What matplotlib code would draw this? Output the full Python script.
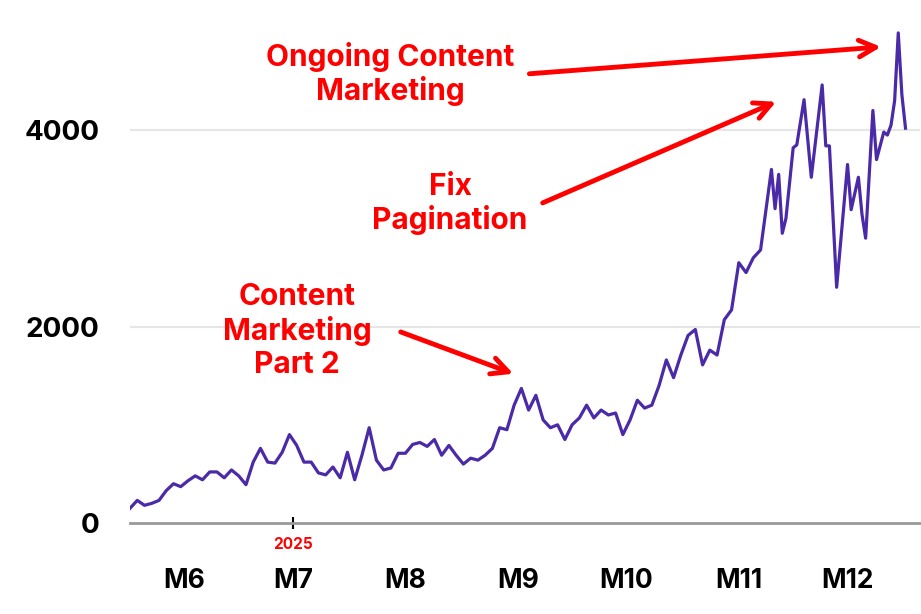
import matplotlib
matplotlib.use("Agg")
import matplotlib.pyplot as plt
import numpy as np
import pandas as pd

# daily views, start date 2025-05-17; early part sampled every 2 days
start = pd.Timestamp("2025-05-17")
early_views = [150, 230, 180, 200, 230, 330, 400, 370, 430, 480,
               440, 520, 520, 460, 540, 480, 390, 620, 760, 620,
               610, 720, 900, 790, 620, 620, 510, 490, 570, 460,
               720, 440, 690, 970, 640, 540, 560, 710, 710, 800,
               820, 780, 850, 690, 790, 690, 600, 660, 640, 690,
               760, 970, 950, 1200, 1370, 1150, 1300, 1050, 970, 1000,
               850, 1000, 1070, 1200, 1070, 1150, 1100, 1120, 900, 1050,
               1250, 1170, 1200, 1400, 1660, 1480, 1710, 1910, 1970, 1610,
               1760, 1710, 2070, 2170]
late_days = [168, 170, 172, 174, 177, 178, 179, 180, 181, 183, 184, 186, 188,
             191, 192, 193, 195, 198, 199, 201, 202, 203, 205, 206, 208, 209,
             210, 211, 212, 213, 214]
late_views = [2650, 2550, 2700, 2780, 3600, 3200, 3550, 2950, 3100, 3820, 3850,
              4310, 3520, 4460, 3840, 3840, 2400, 3650, 3190, 3520, 3140, 2900,
              4200, 3700, 3980, 3950, 4050, 4300, 4990, 4360, 4020]

days = list(range(0, 2 * len(early_views), 2)) + late_days
views = early_views + late_views

month_labels = ["M6", "M7", "M8", "M9", "M10", "M11", "M12"]
month_starts = [(pd.Timestamp(f"2025-{m:02d}-01") - start).days for m in range(6, 13)]

RED = "#ff0000"
PURPLE = "#4b2aa8"
plt.rcParams["font.family"] = ["Inter", "DejaVu Sans"]

fig = plt.figure(figsize=(9.21, 6.14), dpi=100)
ax = fig.add_axes([130 / 921, 1 - 523 / 614, 790 / 921, 523 / 614])
ax.plot(days, views, color=PURPLE, lw=2.3)
ax.set_xlim(0, 218)
ax.set_ylim(0, 5325)

ax.set_yticks([0, 2000, 4000])
ax.set_yticklabels(["0", "2000", "4000"], fontsize=20, fontweight="bold")
ax.tick_params(axis="y", length=0, pad=22)
for v in [2000, 4000]:
    ax.axhline(v, color="#e6e6e6", lw=1.5, zorder=0)
for s in ["top", "right", "left"]:
    ax.spines[s].set_visible(False)
ax.spines["bottom"].set_color("#999999")
ax.spines["bottom"].set_linewidth(2)

# only the year tick at Jul 1
ax.set_xticks([month_starts[1]])
ax.set_xticklabels(["2025"], fontsize=11, fontweight="bold", color=RED)
ax.tick_params(axis="x", length=8, width=1.5, color="black", pad=6, direction="inout")
for d, lab in zip(month_starts, month_labels):
    ax.text(d, -0.11, lab, transform=ax.get_xaxis_transform(), ha="center",
            va="center", fontsize=19, fontweight="bold")

tkw = dict(fontsize=21.5, fontweight="bold", color=RED, ha="center", va="center",
           linespacing=1.2)
arrow = dict(arrowstyle="->", color=RED, lw=3.5, mutation_scale=30)
ax.annotate("Ongoing Content\nMarketing", xy=(208, 4850),
            xytext=(390 / 921, 1 - 74 / 614), textcoords="figure fraction",
            arrowprops=dict(**arrow, relpos=(1.05, 0.5)), **tkw)
ax.annotate("Fix\nPagination", xy=(179, 4300),
            xytext=(450 / 921, 1 - 204 / 614), textcoords="figure fraction",
            arrowprops=dict(**arrow, relpos=(1.08, 0.5)), **tkw)
ax.annotate("Content\nMarketing\nPart 2", xy=(106.5, 1510),
            xytext=(297 / 921, 1 - 331 / 614), textcoords="figure fraction",
            arrowprops=dict(**arrow, relpos=(1.18, 0.5)), **tkw)

fig.savefig("out.png", dpi=100)
